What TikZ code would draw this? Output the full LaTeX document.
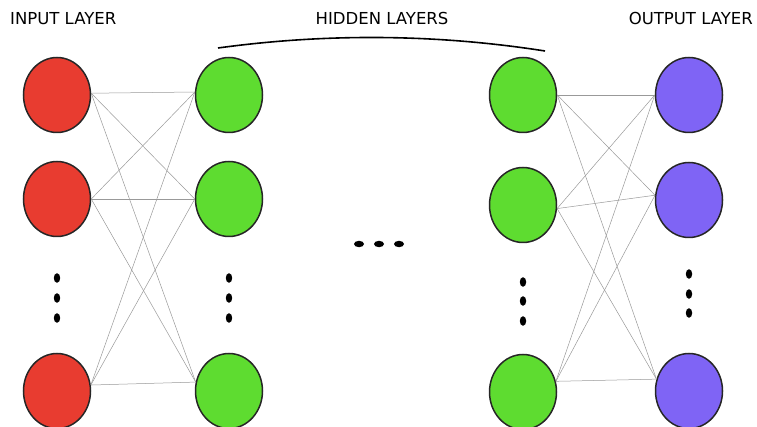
\documentclass[tikz,border=0pt]{standalone}
\usepackage{fontspec}
\setmainfont{DejaVu Sans}
\usepackage{xcolor}
\usetikzlibrary{shapes.geometric}

\definecolor{inred}{HTML}{E83C30}
\definecolor{hidgreen}{HTML}{5EDC30}
\definecolor{outviolet}{HTML}{7F64F5}

\begin{document}
\begin{tikzpicture}[x=1pt, y=-1pt,
        neuron/.style={ellipse, draw=black!85, line width=1.5pt, minimum width=67pt,
                       minimum height=75pt, inner sep=0pt},
        inp/.style={neuron, fill=inred},
        hid/.style={neuron, fill=hidgreen},
        outp/.style={neuron, fill=outviolet},
        wire/.style={draw=black!40, line width=0.5pt},
        title/.style={font=\fontsize{16.5}{18}\selectfont, inner sep=0pt},
    ]
        \useasboundingbox (0,0) rectangle (757,427);

        % layer titles
        \node[title, anchor=base west] (tin)  at (10,25)  {INPUT LAYER};
        \node[title, anchor=base]      (thid) at (382,25) {HIDDEN LAYERS};
        \node[title, anchor=base east] (tout) at (753,25) {OUTPUT LAYER};

        % brace over the hidden layers
        \draw[line width=1.6pt] (218,48) .. controls (320,34) and (430,33) .. (545,51);

        % input layer
        \node[inp] (i1) at (57,95)  {};
        \node[inp] (i2) at (57,199) {};
        \node[inp] (i3) at (57,391) {};

        % first hidden layer
        \node[hid] (a1) at (229,95)  {};
        \node[hid] (a2) at (229,199) {};
        \node[hid] (a3) at (229,391) {};

        % last hidden layer
        \node[hid] (b1) at (523,95)  {};
        \node[hid] (b2) at (523,205) {};
        \node[hid] (b3) at (523,392) {};

        % output layer
        \node[outp] (o1) at (689,95)  {};
        \node[outp] (o2) at (689,200) {};
        \node[outp] (o3) at (689,391) {};

        % input -> hidden weights
        \draw[wire] (i1.3) -- (a1.175);
        \draw[wire] (i1.3) -- (a2.west);
        \draw[wire] (i1.3) -- (a3.165);
        \draw[wire] (i2.east) -- (a1.175);
        \draw[wire] (i2.east) -- (a2.west);
        \draw[wire] (i2.east) -- (a3.165);
        \draw[wire] (i3.10) -- (a1.175);
        \draw[wire] (i3.10) -- (a2.west);
        \draw[wire] (i3.10) -- (a3.165);

        % hidden -> output weights
        \draw[wire] (b1.east) -- (o1.west);
        \draw[wire] (b1.east) -- (o2.172);
        \draw[wire] (b1.east) -- (o3.160);
        \draw[wire] (b2.-6) -- (o1.west);
        \draw[wire] (b2.-6) -- (o2.172);
        \draw[wire] (b2.-6) -- (o3.160);
        \draw[wire] (b3.18) -- (o1.west);
        \draw[wire] (b3.18) -- (o2.172);
        \draw[wire] (b3.18) -- (o3.160);

        % ellipsis dots
        \fill (57,278) ellipse (3.2 and 4.8);
        \fill (57,298) ellipse (3.2 and 4.8);
        \fill (57,318) ellipse (3.2 and 4.8);
        \fill (229,278) ellipse (3.2 and 4.8);
        \fill (229,298) ellipse (3.2 and 4.8);
        \fill (229,318) ellipse (3.2 and 4.8);
        \fill (523,282) ellipse (3.2 and 4.8);
        \fill (523,301) ellipse (3.2 and 4.8);
        \fill (523,321) ellipse (3.2 and 4.8);
        \fill (689,274) ellipse (3.2 and 4.8);
        \fill (689,294) ellipse (3.2 and 4.8);
        \fill (689,313) ellipse (3.2 and 4.8);
        \fill (359,244) ellipse (5 and 3.2);
        \fill (379,244) ellipse (5 and 3.2);
        \fill (399,244) ellipse (5 and 3.2);
    \end{tikzpicture}
\end{document}
